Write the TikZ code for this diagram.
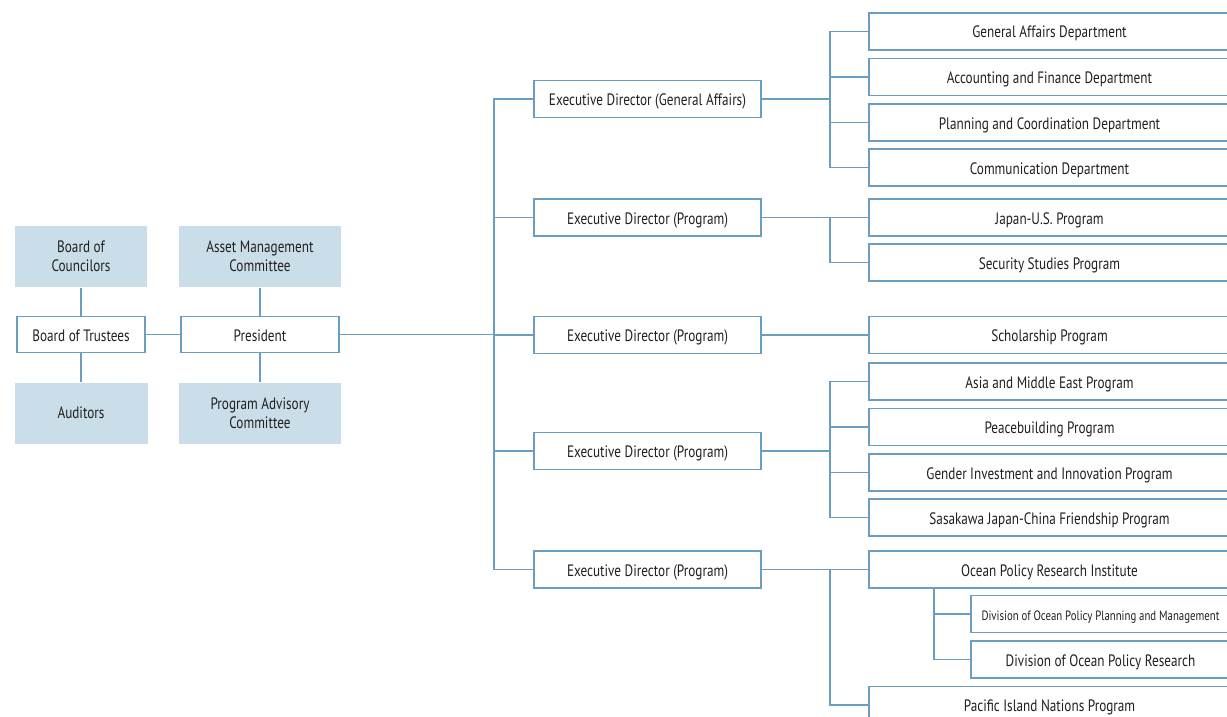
\documentclass[tikz,border=0pt]{standalone}
\usepackage{fontspec}
\setmainfont[FakeStretch=0.8]{PT Sans}
\definecolor{orgline}{HTML}{6A9EC0}
\definecolor{orgfill}{HTML}{C9DEE8}
\definecolor{orgtext}{HTML}{231F20}

\begin{document}
\begin{tikzpicture}[x=1pt, y=-1pt, line width=1.4pt]
\tikzstyle{every node}=[text=orgtext, font=\fontsize{16.5}{19}\selectfont, inner sep=0pt];
\tikzstyle{box}=[draw=orgline, fill=white, minimum height=37pt, text height=14.5pt, text depth=1.5pt];
\tikzstyle{shade}=[fill=orgfill, align=center, minimum height=61pt];
\tikzstyle{dept}=[box, minimum width=361pt];
\tikzstyle{div}=[box, minimum width=259pt];
\tikzstyle{link}=[draw=orgline];
\useasboundingbox (0,0) rectangle (1227,717);

% governance
\path (81,256.5) node[shade, minimum width=132pt] (boc) {Board of\\Councilors};
\path (260,256.5) node[shade, minimum width=162pt] (amc) {Asset Management\\Committee};
\path (81,334.5) node[box, minimum width=128pt, minimum height=36pt] (bot) {Board of Trustees};
\path (260,334.5) node[box, minimum width=158pt, minimum height=36pt] (pres) {President};
\path (81,413) node[shade, minimum width=133pt] (aud) {Auditors};
\path (260,413) node[shade, minimum width=162pt] (pac) {Program Advisory\\Committee};

% executive directors
\path (647.5,99) node[box, minimum width=227pt] (ed1) {Executive Director (General Affairs)};
\foreach \i/\y in {2/217.5, 3/335, 4/451, 5/569.5}
{
\path (647.5,\y) node[box, minimum width=227pt] (ed\i) {Executive Director (Program)};
}

% departments and programs
\foreach \n/\y/\t in {ga/31.5/General Affairs Department,
  acc/77/Accounting and Finance Department,
  plan/122.5/Planning and Coordination Department,
  com/167.5/Communication Department,
  jus/217.5/Japan-U.S. Program,
  ssp/262.5/Security Studies Program,
  sch/335/Scholarship Program,
  asia/381.5/Asia and Middle East Program,
  peace/427/Peacebuilding Program,
  gen/472.5/Gender Investment and Innovation Program,
  sjc/517.5/Sasakawa Japan-China Friendship Program,
  opri/569.5/Ocean Policy Research Institute,
  pin/705/Pacific Island Nations Program}
{
\path (1049.5,\y) node[dept] (\n) {\t};
}
\path (1100.5,614) node[div, font=\fontsize{13.5}{15}\selectfont] (dpm) {Division of Ocean Policy Planning and Management};
\path (1100.5,659.5) node[div] (dpr) {Division of Ocean Policy Research};

% connectors
\coordinate (trunk) at (494,0);
\coordinate (branch) at (830,0);
\coordinate (sub) at (934,0);
\draw[link] (boc) -- (bot);
\draw[link] (bot) -- (aud);
\draw[link] (bot) -- (pres);
\draw[link] (amc) -- (pres);
\draw[link] (pres) -- (pac);
\draw[link] (pres.east) -- (pres.east -| trunk);
\draw[link] (ed1.west) -| (trunk |- ed5.west) -- (ed5.west);
\foreach \n in {ed2,ed3,ed4} \draw[link] (\n.west) -- (\n.west -| trunk);

\draw[link] (ed1.east) -- (ed1.east -| branch);
\draw[link] (ga.west) -| (branch |- com.west) -- (com.west);
\foreach \n in {acc,plan} \draw[link] (\n.west) -- (\n.west -| branch);

\draw[link] (ed2.east) -- (jus.west);
\draw[link] (jus.west -| branch) |- (ssp.west);

\draw[link] (ed3.east) -- (sch.west);

\draw[link] (ed4.east) -- (ed4.east -| branch);
\draw[link] (asia.west) -| (branch |- sjc.west) -- (sjc.west);
\foreach \n in {peace,gen} \draw[link] (\n.west) -- (\n.west -| branch);

\draw[link] (ed5.east) -- (opri.west);
\draw[link] (opri.west -| branch) |- (pin.west);
\draw[link] (opri.south -| sub) |- (dpr.west);
\draw[link] (dpm.west) -- (dpm.west -| sub);
\end{tikzpicture}
\end{document}
